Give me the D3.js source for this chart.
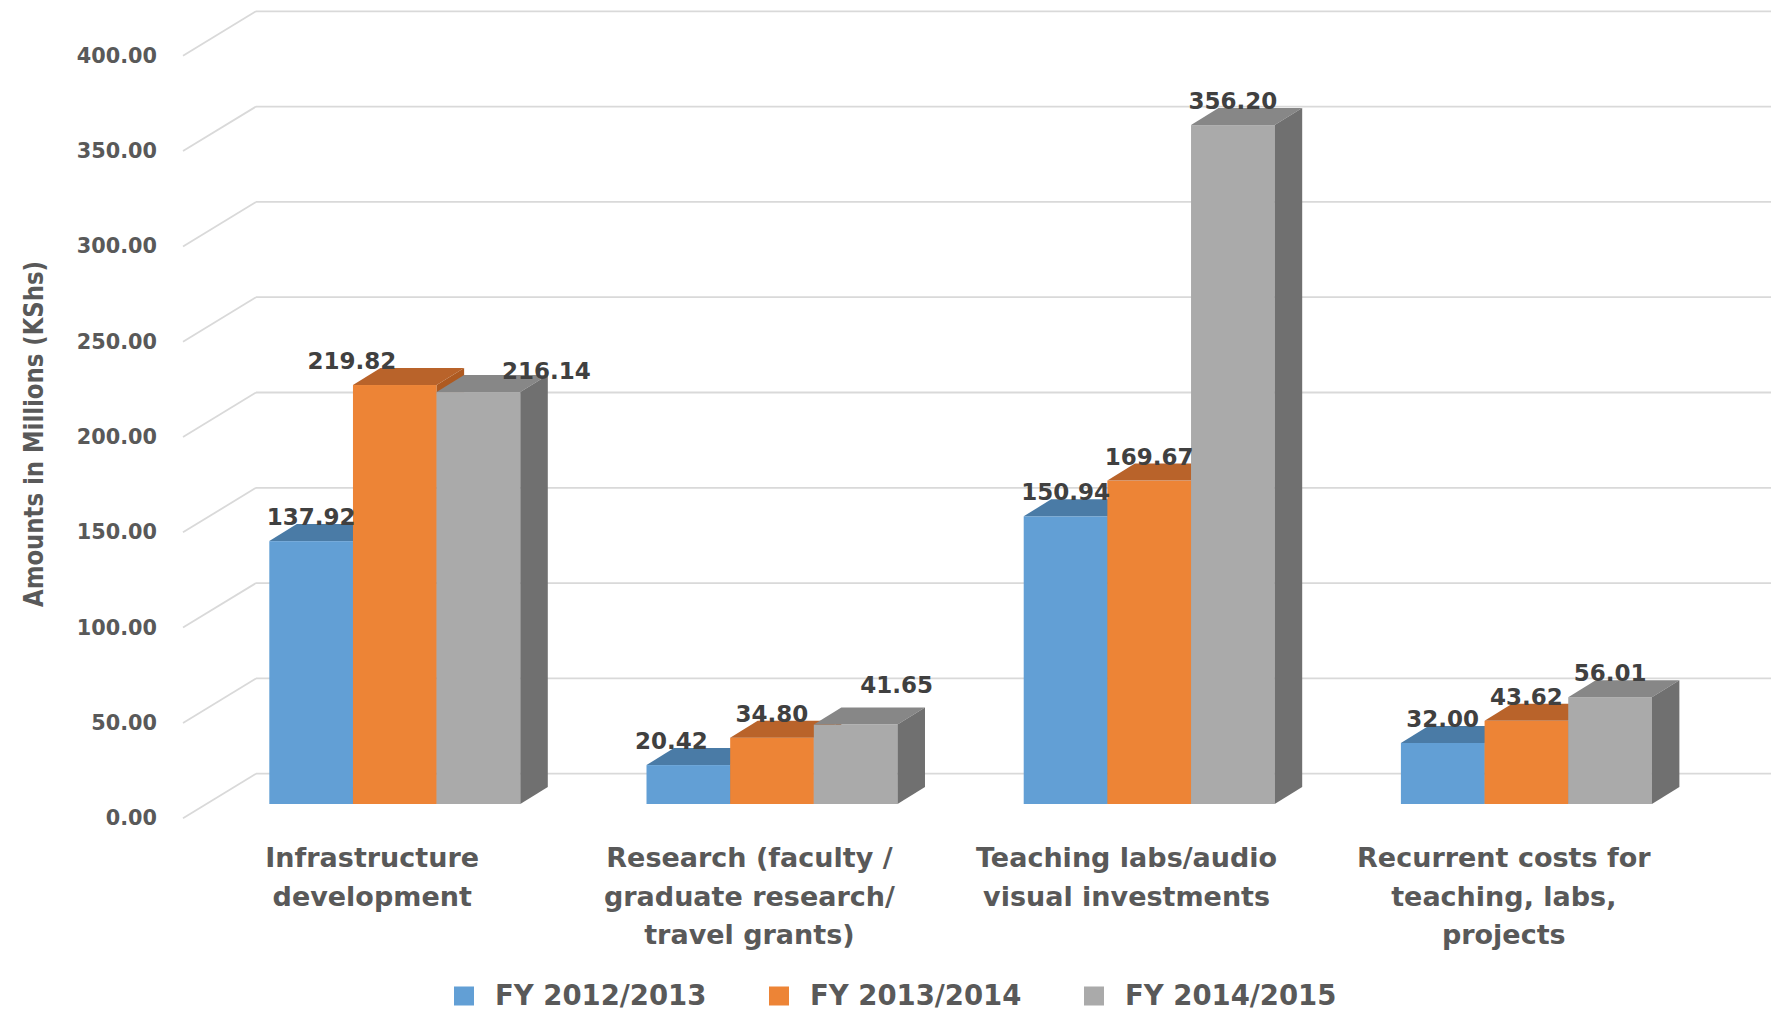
<!DOCTYPE html>
<html>
<head>
<meta charset="utf-8">
<script src="https://cdn.jsdelivr.net/npm/d3@7/dist/d3.min.js"></script>
<style>
  html, body { margin: 0; padding: 0; background: #ffffff; }
  svg { display: block; }
  text { font-family: "DejaVu Sans", "Open Sans", sans-serif; font-weight: bold; }
</style>
</head>
<body>
<div id="chart"></div>
<script>
// Spending categories and their wrapped axis labels
const categories = [
  "Infrastructure development",
  "Research (faculty / graduate research/ travel grants)",
  "Teaching labs/audio visual investments",
  "Recurrent costs for teaching, labs, projects"
];
const categoryLines = [
  ["Infrastructure", "development"],
  ["Research (faculty /", "graduate research/", "travel grants)"],
  ["Teaching labs/audio", "visual investments"],
  ["Recurrent costs for", "teaching, labs,", "projects"]
];

// Financial years (series)
const seriesNames = ["FY 2012/2013", "FY 2013/2014", "FY 2014/2015"];

// Amounts in millions of KShs, one array per financial year
const fy2012 = [137.92, 20.42, 150.94, 32.00];
const fy2013 = [219.82, 34.80, 169.67, 43.62];
const fy2014 = [216.14, 41.65, 356.20, 56.01];
const seriesValues = [fy2012, fy2013, fy2014];

// Value axis ticks
const yTicks = [0, 50, 100, 150, 200, 250, 300, 350, 400];

// ---- layout -------------------------------------------------------------
const W = 1771, H = 1012;
const svg = d3.select("#chart").append("svg")
  .attr("width", W).attr("height", H);

// Column front faces sit on this plane
const yBar = d3.scaleLinear().domain([0, 400]).range([804, 41.6]);
// Back wall and front (label) plane are offsets of the same scale
const backShift = -30.3, frontShift = 14.2;
const yBack = v => yBar(v) + backShift;
const yFront = v => yBar(v) + frontShift;

const wallFrontX = 183, wallBackX = 256, rightX = W;

const x0 = d3.scaleBand().domain(categories).range([206.2, 1715])
  .paddingInner(0.3346).paddingOuter(0.3346 / 2);
const x1 = d3.scaleBand().domain(seriesNames).range([0, x0.bandwidth()]);

// depth of each column in projection
const depthX = 27.5, depthY = 17;
// front plane of the columns relative to the label plane
const barPlaneDx = 22.6;

const palette = {
  "FY 2012/2013": { front: "#629FD5", top: "#4A7BA6", side: "#41719C" },
  "FY 2013/2014": { front: "#ED8436", top: "#B9632A", side: "#AE5A21" },
  "FY 2014/2015": { front: "#AAAAAA", top: "#878787", side: "#707070" }
};

const gridColor = "#D9D9D9";
const axisText = "#595959";
const labelText = "#404040";

// ---- gridlines: back wall lines plus the diagonal on the left wall -------
const grid = svg.append("g").attr("class", "grid");
grid.selectAll("line.back").data(yTicks).join("line")
  .attr("class", "back")
  .attr("x1", wallBackX).attr("x2", rightX)
  .attr("y1", d => yBack(d)).attr("y2", d => yBack(d))
  .attr("stroke", gridColor).attr("stroke-width", 1.8);
grid.selectAll("line.side").data(yTicks).join("line")
  .attr("class", "side")
  .attr("x1", wallFrontX).attr("y1", d => yFront(d))
  .attr("x2", wallBackX).attr("y2", d => yBack(d))
  .attr("stroke", gridColor).attr("stroke-width", 1.8);

// ---- value axis labels --------------------------------------------------
svg.append("g").selectAll("text").data(yTicks).join("text")
  .attr("x", 157).attr("y", d => yFront(d))
  .attr("text-anchor", "end").attr("dominant-baseline", "central")
  .attr("font-size", 20.8).attr("fill", axisText)
  .text(d => d3.format(".2f")(d));

svg.append("text")
  .attr("transform", "translate(43,434) rotate(-90)")
  .attr("text-anchor", "middle")
  .attr("font-size", 26).attr("fill", axisText)
  .attr("textLength", 346).attr("lengthAdjust", "spacingAndGlyphs")
  .text("Amounts in Millions (KShs)");

// ---- 3D columns -----------------------------------------------------------
const bars = svg.append("g").attr("class", "bars");
const poly = pts => pts.map(p => p.join(",")).join(" ");

categories.forEach((cat, ci) => {
  seriesNames.forEach((s, si) => {
    const v = seriesValues[si][ci];
    const xl = x0(cat) + x1(s);
    const xr = xl + x1.bandwidth();
    const yt = yBar(v), yb = yBar(0);
    const c = palette[s];
    const g = bars.append("g");
    g.append("rect")
      .attr("x", xl).attr("y", yt)
      .attr("width", xr - xl).attr("height", yb - yt)
      .attr("fill", c.front);
    g.append("polygon")
      .attr("points", poly([[xl, yt], [xr, yt], [xr + depthX, yt - depthY], [xl + depthX, yt - depthY]]))
      .attr("fill", c.top);
    g.append("polygon")
      .attr("points", poly([[xr, yt], [xr + depthX, yt - depthY], [xr + depthX, yb - depthY], [xr, yb]]))
      .attr("fill", c.side);
  });
});

// ---- value labels ----------------------------------------------------------
// a few labels are nudged sideways so they do not collide with taller neighbours
const labelNudge = {
  "0-1": [-43, 0],
  "0-2": [68, 3],
  "1-0": [-17, 0],
  "1-2": [41, -16]
};
const labels = svg.append("g").attr("class", "labels");
categories.forEach((cat, ci) => {
  seriesNames.forEach((s, si) => {
    const v = seriesValues[si][ci];
    const nudge = labelNudge[ci + "-" + si] || [0, 0];
    labels.append("text")
      .attr("x", x0(cat) + x1(s) + x1.bandwidth() / 2 + nudge[0])
      .attr("y", yBar(v) - depthY + 1 + nudge[1])
      .attr("text-anchor", "middle")
      .attr("font-size", 23).attr("fill", labelText)
      .text(d3.format(".2f")(v));
  });
});

// ---- category labels -------------------------------------------------------
const catG = svg.append("g").attr("class", "categories");
categories.forEach((cat, ci) => {
  const cx = x0(cat) + x0.bandwidth() / 2 - barPlaneDx;
  const t = catG.append("text")
    .attr("text-anchor", "middle")
    .attr("font-size", 27).attr("fill", axisText);
  categoryLines[ci].forEach((line, li) => {
    t.append("tspan").attr("x", cx).attr("y", 867 + li * 38.5).text(line);
  });
});

// ---- legend ------------------------------------------------------------------
const legendX = d3.scalePoint().domain(seriesNames).range([454, 1084]);
const legend = svg.append("g").attr("class", "legend");
seriesNames.forEach(s => {
  legend.append("rect")
    .attr("x", legendX(s)).attr("y", 986.5)
    .attr("width", 20).attr("height", 19)
    .attr("fill", palette[s].front);
  legend.append("text")
    .attr("x", legendX(s) + 41).attr("y", 1004.5)
    .attr("font-size", 27.5).attr("fill", axisText)
    .text(s);
});
</script>
</body>
</html>
